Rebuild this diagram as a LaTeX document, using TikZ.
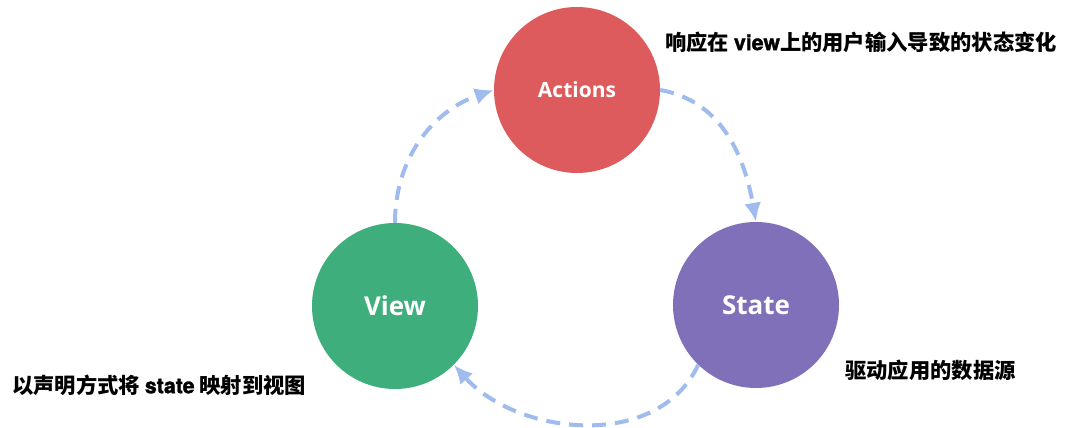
\documentclass[tikz,border=0pt]{standalone}
\usepackage{fontspec}
\setmainfont{Liberation Sans}
\newfontfamily\cjkfont{Noto Sans CJK SC}
\newfontfamily\bubblefont{Open Sans}
\newfontfamily\latinbold{texgyreheros-bold.otf}[FakeBold=1.6]
\usepackage{tikz}
\usetikzlibrary{arrows.meta}
\definecolor{actionred}{RGB}{221,91,92}
\definecolor{viewgreen}{RGB}{62,175,124}
\definecolor{statepurple}{RGB}{128,112,186}
\definecolor{flowblue}{RGB}{160,187,238}
\tikzstyle{bubble} = [circle, inner sep=0pt, minimum size=166pt, text=white,
  font=\bubblefont\bfseries\fontsize{26}{30}\selectfont]
\tikzstyle{note} = [anchor=west, inner sep=0pt,
  font=\cjkfont\bfseries\fontsize{21.3}{26}\selectfont]
\tikzstyle{flow} = [draw=flowblue, line width=4pt, dash pattern=on 14pt off 9pt,
  -{Latex[length=19pt,width=17pt]}]

\begin{document}
\begin{tikzpicture}[x=1pt,y=1pt]
\useasboundingbox (0,0) rectangle (1068,428);

%% Draw the three circles
\node [bubble,fill=actionred,font=\bubblefont\bfseries\fontsize{21}{25}\selectfont]
  (actions) at (577,338) {Actions};
\node [bubble,fill=viewgreen] (view) at (395,122) {View};
\node [bubble,fill=statepurple] (state) at (756,123) {State};

%% Notes beside the circles
\node [note] (actionsnote) at (665,386) {响应在 {\latinbold\mdseries view}上的用户输入导致的状态变化};
\node [note] (viewnote) at (12,43) {以声明方式将 {\latinbold\mdseries state} 映射到视图};
\node [note] (statenote) at (845,58) {驱动应用的数据源};

%% Dashed cycle
\draw [flow] (view.north) to[out=90,in=199] (actions.west);
\draw [flow] (actions.east) to[out=-10,in=100] (state.north);
\draw [flow] (state.226) to[out=245,in=-48] (view.-45);

\end{tikzpicture}
\end{document}
